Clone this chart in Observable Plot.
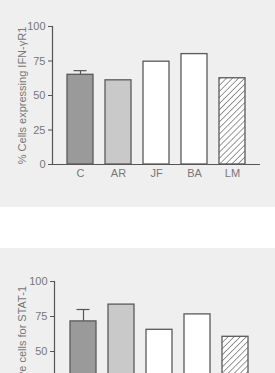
<!DOCTYPE html>
<html>
<head>
<meta charset="utf-8">
<script src="https://cdn.jsdelivr.net/npm/d3@7"></script>
<script src="https://cdn.jsdelivr.net/npm/@observablehq/plot@0.6"></script>
<style>
  html, body { margin: 0; padding: 0; background: #ffffff; width: 275px; height: 373px; overflow: hidden; }
  .panel { position: absolute; left: 0; width: 275px; background: #efefef; overflow: hidden; }
  #p1 { top: 0; height: 207px; }
  #p2 { top: 248px; height: 216px; }
  svg { display: block; }
</style>
</head>
<body>
<div class="panel" id="p1"></div>
<div class="panel" id="p2"></div>
<script>
// Data
const categories = ["C", "AR", "JF", "BA", "LM"];
const ifnValues = [65, 61, 74.5, 80, 62.5];
const ifnErrorTop = [68, null, null, null, null];
const statValues = [71.5, 83.5, 65.5, 76.5, 60.5];
const statErrorTop = [80, null, null, null, null];
const yTicks = [0, 25, 50, 75, 100];

function makeChart(el, values, errTop, label, opts) {
  const hatchId = "hatch-" + el.id;
  const fillRange = ["#9a9a9a", "#c9c9c9", "#ffffff", "#ffffff", `url(#${hatchId})`];
  const data = categories.map((c, i) => ({cat: c, value: values[i], err: errTop[i]}));
  const errData = data.filter(d => d.err != null);
  const chart = Plot.plot({
    width: 275,
    height: opts.height,
    marginTop: opts.marginTop,
    marginBottom: opts.marginBottom,
    marginLeft: opts.marginLeft,
    marginRight: opts.marginRight,
    style: {fontFamily: "'Liberation Sans', Arial, sans-serif", fontSize: "11px", color: "#666", background: "transparent"},
    x: {domain: categories, padding: 0.32, paddingOuter: 0.36, label: null},
    y: {domain: [0, 100], ticks: yTicks},
    color: {domain: categories, range: fillRange},
    marks: [
      Plot.ruleX(errData, {x: "cat", y1: "value", y2: "err", stroke: "#555", strokeWidth: 1.2}),
      Plot.tickY(errData, {x: "cat", y: "err", stroke: "#555", strokeWidth: 1.2, insetLeft: 6.5, insetRight: 6.5}),
      Plot.barY(data, {x: "cat", y: "value", fill: "cat", stroke: "#5a5a5a", strokeWidth: 1.3}),
      Plot.ruleY([0], {stroke: "#555", strokeWidth: 1.2, insetLeft: -3}),
      Plot.frame({anchor: "left", stroke: "#555", strokeWidth: 1.2}),
      Plot.axisX({tickSize: 0, tickPadding: 5, label: null, fill: "#777", fontSize: 11}),
      Plot.axisY({ticks: yTicks, tickSize: 4, tickPadding: 3, stroke: "#555", fill: "#777", fontSize: 11,
        label, labelAnchor: "center", labelOffset: opts.labelOffset, labelArrow: "none"})
    ]
  });
  const svg = d3.select(chart);
  const defs = svg.insert("defs", ":first-child");
  const pat = defs.append("pattern")
    .attr("id", hatchId)
    .attr("patternUnits", "userSpaceOnUse")
    .attr("width", 4.3).attr("height", 4.3)
    .attr("patternTransform", "rotate(45)");
  pat.append("rect").attr("width", 4.3).attr("height", 4.3).attr("fill", "#ffffff");
  pat.append("line").attr("x1", 0).attr("y1", 0).attr("x2", 0).attr("y2", 4.3)
    .attr("stroke", "#444").attr("stroke-width", 1.1);
  el.appendChild(chart);
}

makeChart(document.getElementById("p1"), ifnValues, ifnErrorTop, "% Cells expressing IFN-γR1",
  {height: 207, marginTop: 26, marginBottom: 43, marginLeft: 52, marginRight: 15, labelOffset: 34});
makeChart(document.getElementById("p2"), statValues, statErrorTop, "% Positive cells for STAT-1",
  {height: 216, marginTop: 33, marginBottom: 43, marginLeft: 54, marginRight: 12, labelOffset: 36});
</script>
</body>
</html>
